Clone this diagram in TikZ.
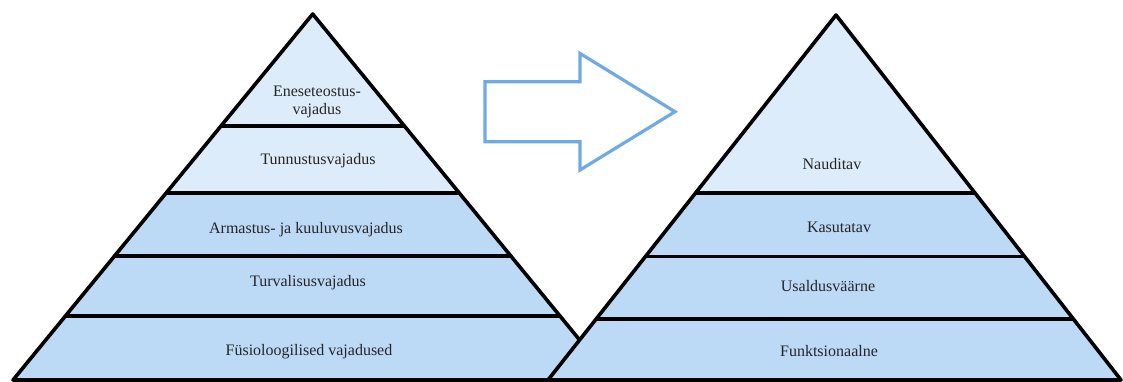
\documentclass[tikz,border=0pt]{standalone}
\usepackage{fontspec}
\setmainfont{Liberation Serif}
\newfontfamily\lblfont{Liberation Serif}
\definecolor{lightband}{HTML}{DDECFA}
\definecolor{darkband}{HTML}{BCD9F6}
\definecolor{arrowblue}{HTML}{6FAAE2}
\tikzset{
  edge/.style={draw=black, line width=3.6pt, line join=round},
  divider/.style={draw=black, line width=3.6pt},
  lbl/.style={font=\lblfont\fontsize{16}{18}\selectfont, text=black!85, align=center, inner sep=0pt},
  arrowshape/.style={draw=arrowblue, line width=3.2pt, fill=white, line join=miter},
}
\begin{document}
\begin{tikzpicture}[x=1pt,y=-1pt]
\useasboundingbox (0,0) rectangle (1123,381);
% ---- left pyramid ----
\coordinate (LA) at (312.7,14);
\coordinate (LL) at (13,380);
\coordinate (LR) at (612.4,380);
\begin{scope}
  \clip (LA) -- (LL) -- (LR) -- cycle;
  \fill[lightband] (0,0) rectangle (700,192.7);
  \fill[darkband] (0,192.7) rectangle (700,390);
  \draw[divider] (0,125.7) -- (700,125.7);
  \draw[divider] (0,192.7) -- (700,192.7);
  \draw[divider] (0,256) -- (700,256);
  \draw[divider] (0,316) -- (700,316);
\end{scope}
\draw[edge] (LL) -- (LA) -- (LR) -- cycle;
\node[lbl] (l1) at (317,102) {Eneseteostus-\\vajadus};
\node[lbl] (l2) at (318,161) {Tunnustusvajadus};
\node[lbl] (l3) at (306,230) {Armastus- ja kuuluvusvajadus};
\node[lbl] (l4) at (308,283) {Turvalisusvajadus};
\node[lbl] (l5) at (309,352) {Füsioloogilised vajadused};
% ---- right pyramid ----
\coordinate (RA) at (836,15);
\coordinate (RL) at (548,380);
\coordinate (RR) at (1121,380);
\begin{scope}
  \clip (RA) -- (RL) -- (RR) -- cycle;
  \fill[lightband] (500,0) rectangle (1123,192.7);
  \fill[darkband] (500,192.7) rectangle (1123,390);
  \draw[divider] (500,192.7) -- (1123,192.7);
  \draw[divider] (500,256.5) -- (1123,256.5);
  \draw[divider] (500,319) -- (1123,319);
\end{scope}
\draw[edge] (RL) -- (RA) -- (RR) -- cycle;
\node[lbl] (r1) at (832,164) {Nauditav};
\node[lbl] (r2) at (839,227) {Kasutatav};
\node[lbl] (r3) at (828,286) {Usaldusväärne};
\node[lbl] (r4) at (829,351) {Funktsionaalne};
% ---- block arrow ----
\draw[arrowshape] (485,81.7) -- (580,81.7) -- (580,53.4) -- (675,111.7)
  -- (580,170) -- (580,141.7) -- (485,141.7) -- cycle;
\end{tikzpicture}
\end{document}
